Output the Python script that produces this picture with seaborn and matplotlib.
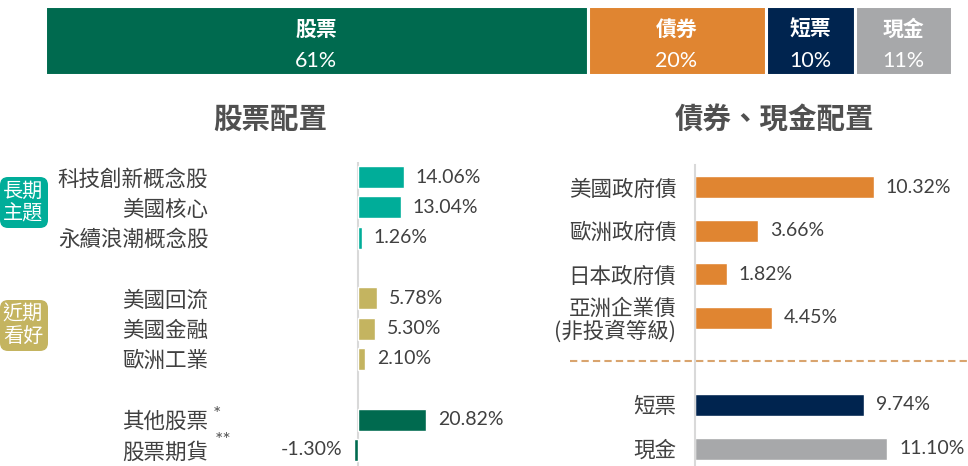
import matplotlib
matplotlib.use("Agg")
import matplotlib.pyplot as plt
from matplotlib.patches import FancyBboxPatch
import numpy as np
import pandas as pd
import seaborn as sns

# 資產配置 (上方總覽)
top_labels = ["股票", "債券", "短票", "現金"]
top_values = [61, 20, 10, 11]

# 股票配置
long_labels = ["科技創新概念股", "美國核心", "永續浪潮概念股"]
long_values = [14.06, 13.04, 1.26]
near_labels = ["美國回流", "美國金融", "歐洲工業"]
near_values = [5.78, 5.30, 2.10]
other_labels = ["其他股票", "股票期貨"]
other_values = [20.82, -1.30]

# 債券、現金配置
bond_labels = ["美國政府債", "歐洲政府債", "日本政府債", "亞洲企業債\n(非投資等級)"]
bond_values = [10.32, 3.66, 1.82, 4.45]
cash_labels = ["短票", "現金"]
cash_values = [9.74, 11.10]

GREEN = "#006a4f"
ORANGE = "#e08531"
NAVY = "#00244f"
GRAY = "#a7a8aa"
TEAL = "#00ad99"
OLIVE = "#c4b460"
TXT = "#404040"
CJK = ["Noto Sans CJK TC", "DejaVu Sans"]
NUM = ["Lato", "DejaVu Sans"]

sns.set_theme(style="white")
plt.rcParams["font.family"] = CJK

W, H = 968, 466
fig = plt.figure(figsize=(W / 100, H / 100), dpi=100)


def box(l, t, r, b):
    return [l / W, 1 - b / H, (r - l) / W, (b - t) / H]


# ---- 上方堆疊條 ----
ax_top = fig.add_axes(box(44.5, 5.5, 952.5, 74.5))
top_colors = [GREEN, ORANGE, NAVY, GRAY]
lefts = np.cumsum([0] + top_values[:-1])
ax_top.barh(0.5, top_values, left=lefts, height=1, color=top_colors,
            edgecolor="white", linewidth=2.2)
for lab, v, l in zip(top_labels, top_values, lefts):
    cx = l + v / 2
    ax_top.text(cx, 0.66, lab, ha="center", va="center", color="white",
                fontsize=15, fontweight="bold", family=CJK)
    ax_top.text(cx, 0.195, f"{v}%", ha="center", va="center", color="white",
                fontsize=15.5, family=NUM)
ax_top.set_xlim(0, sum(top_values))
ax_top.set_ylim(0, 1)
ax_top.axis("off")

# ---- 股票配置 ----
eq = pd.DataFrame({
    "label": long_labels + near_labels + other_labels,
    "value": long_values + near_values + other_values,
    "group": ["long"] * len(long_labels) + ["near"] * len(near_labels)
             + ["other"] * len(other_labels),
})
eq_order = long_labels + [" "] + near_labels + ["  "] + other_labels

ax_l = fig.add_axes(box(300, 162, 520, 466))
sns.barplot(data=eq, x="value", y="label", hue="group", order=eq_order,
            palette={"long": TEAL, "near": OLIVE, "other": GREEN},
            dodge=False, width=0.725, legend=False, saturation=1, ax=ax_l)
ax_l.axvline(0, color="#d9d9d9", lw=1.5, zorder=0)
for c in ax_l.containers:
    lbls = ax_l.bar_label(c, fmt="{:.2f}%", padding=8.5, fontsize=14, color=TXT)
    for t in lbls:
        t.set_fontfamily(NUM)
ax_l.set_xlim((300 - 358) / 3.27, (520 - 358) / 3.27)
ax_l.set_ylim(9.53, -0.495)
ax_l.tick_params(axis="y", length=0, pad=66, labelsize=15.5, labelcolor=TXT)
ax_l.set_xticks([])
ax_l.set_xlabel("")
ax_l.set_ylabel("")
sns.despine(ax=ax_l, left=True, bottom=True)

fig.text(217 / W, 1 - 414 / H, "*", ha="center", va="center", fontsize=14,
         color="#555555", family=NUM)
fig.text(223 / W, 1 - 441 / H, "**", ha="center", va="center", fontsize=14,
         color="#555555", family=NUM)

# 標籤徽章
for (y0, y1, txt, col) in [(177, 228, "長期\n主題", TEAL), (300, 351, "近期\n看好", OLIVE)]:
    patch = FancyBboxPatch((0, (H - y1) / 100), 0.48, (y1 - y0) / 100,
                           boxstyle="round,pad=0,rounding_size=0.08",
                           transform=fig.dpi_scale_trans, facecolor=col,
                           edgecolor="none")
    fig.add_artist(patch)
    fig.text(23 / W, 1 - (y0 + y1) / 2 / H, txt, ha="center", va="center",
             color="white", fontsize=14.5, linespacing=1.1, family=CJK)

# ---- 債券、現金配置 ----
bc = pd.DataFrame({
    "label": bond_labels + cash_labels,
    "value": bond_values + cash_values,
})
bc_order = bond_labels + [" "] + cash_labels
bc_palette = {lab: ORANGE for lab in bond_labels}
bc_palette.update({"短票": NAVY, "現金": GRAY})

ax_r = fig.add_axes(box(695, 165, 968, 466))
sns.barplot(data=bc, x="value", y="label", hue="label", order=bc_order,
            palette=bc_palette, dodge=False, width=0.505, legend=False,
            saturation=1, ax=ax_r)
for c in ax_r.containers:
    lbls = ax_r.bar_label(c, fmt="{:.2f}%", padding=8.5, fontsize=14, color=TXT)
    for t in lbls:
        t.set_fontfamily(NUM)
ax_r.axhline(4, xmin=(570 - 695) / 273, xmax=1, color="#d9a46e", lw=1.5,
             linestyle=(0, (3.5, 2)), clip_on=False)
ax_r.set_xlim(0, (968 - 695) / 17.33)
ax_r.set_ylim(6.4, -0.505)
ax_r.tick_params(axis="y", length=0, pad=13.5, labelsize=15.5, labelcolor=TXT)
for t in ax_r.get_yticklabels():
    t.set_linespacing(1.0)
ax_r.set_xticks([])
ax_r.set_xlabel("")
ax_r.set_ylabel("")
sns.despine(ax=ax_r, bottom=True)
ax_r.spines["left"].set_color("#d9d9d9")
ax_r.spines["left"].set_linewidth(1.5)

# 標題
fig.text(270 / W, 1 - 120 / H, "股票配置", ha="center", va="center",
         fontsize=20.5, fontweight="bold", color="#505050", family=CJK)
fig.text(774 / W, 1 - 120 / H, "債券、現金配置", ha="center", va="center",
         fontsize=20.5, fontweight="bold", color="#505050", family=CJK)

fig.savefig("out.png", dpi=100)
